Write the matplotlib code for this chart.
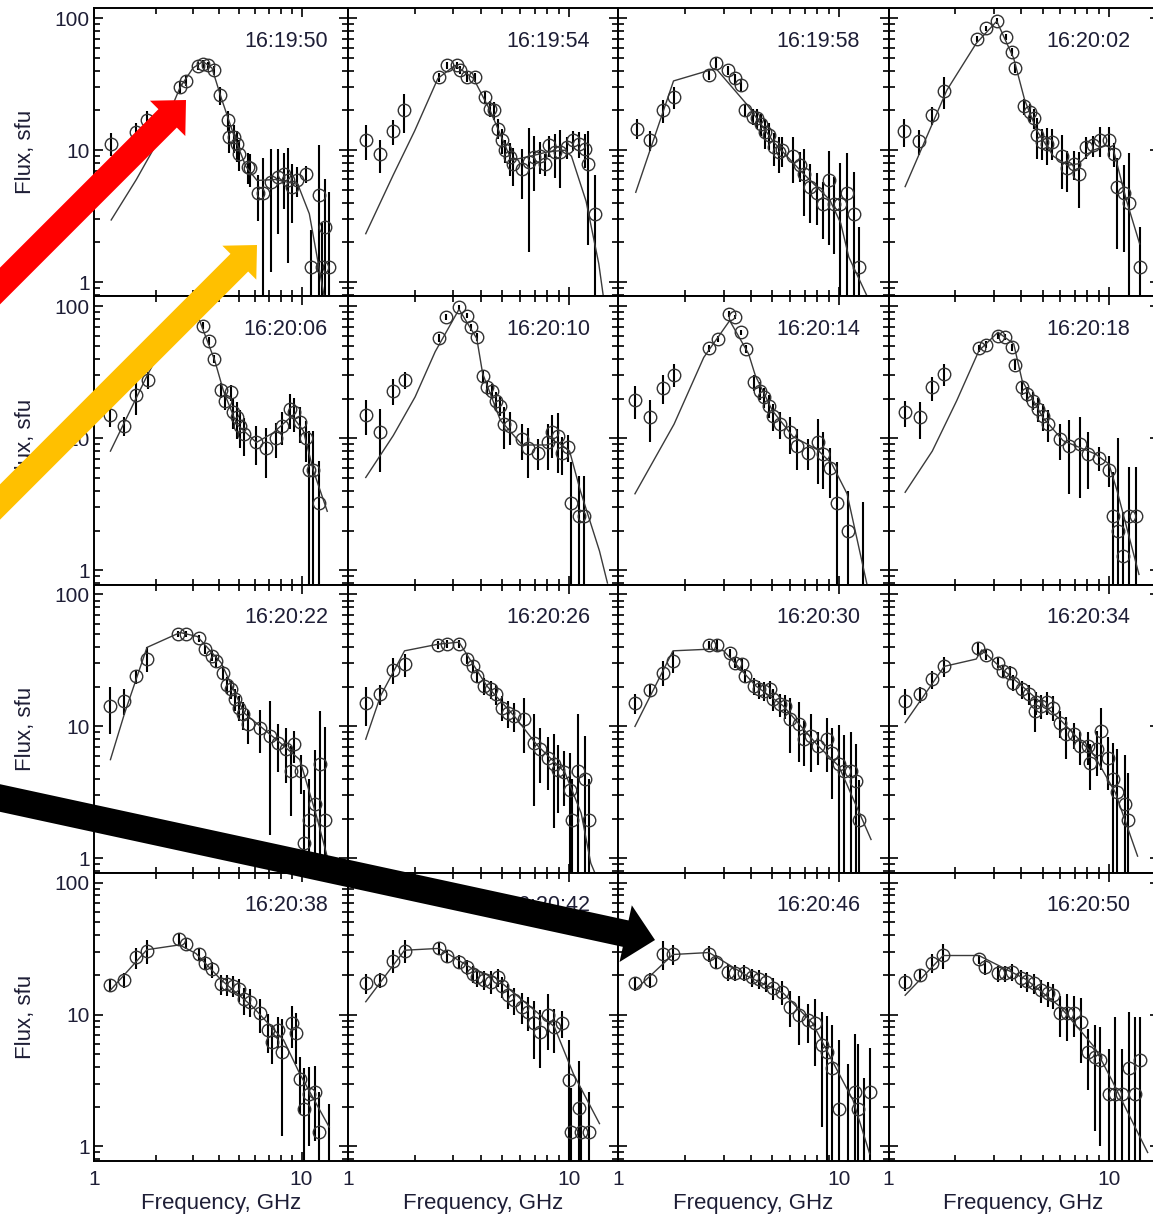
import numpy as np
import matplotlib
matplotlib.use('Agg')
import matplotlib.pyplot as plt
from matplotlib.patches import FancyArrow
from matplotlib.ticker import LogLocator, NullFormatter

plt.rcParams['font.family'] = ['Liberation Sans', 'DejaVu Sans']

times = ['16:19:50', '16:19:54', '16:19:58', '16:20:02',
         '16:20:06', '16:20:10', '16:20:14', '16:20:18',
         '16:20:22', '16:20:26', '16:20:30', '16:20:34',
         '16:20:38', '16:20:42', '16:20:46', '16:20:50']

# observed spectra: frequency (GHz), flux (sfu), 1-sigma error (sfu)
freq = [
    [1.21, 1.6, 1.8, 2.59, 2.78, 3.17, 3.35, 3.53, 3.8, 4.05, 4.41, 4.46, 4.75, 4.87, 5.02, 5.5, 5.65, 6.14, 6.49, 7.12, 7.66, 8.25, 8.65, 9.04, 9.56, 10.5, 11.1, 12.2, 12.5, 13.0, 13.6],
    [1.2, 1.4, 1.6, 1.79, 2.57, 2.8, 3.13, 3.22, 3.45, 3.77, 4.18, 4.41, 4.6, 4.8, 4.98, 5.16, 5.4, 5.58, 6.14, 6.58, 6.98, 7.44, 7.84, 8.11, 8.7, 9.17, 9.84, 10.47, 11.1, 11.9, 12.3, 13.2],
    [1.21, 1.39, 1.6, 1.79, 2.57, 2.78, 3.16, 3.39, 3.6, 3.77, 4.08, 4.26, 4.44, 4.64, 4.8, 5.07, 5.34, 5.53, 6.2, 6.7, 6.93, 7.44, 7.98, 8.49, 9.01, 9.49, 10.1, 10.9, 11.7, 12.3],
    [1.18, 1.38, 1.57, 1.79, 2.53, 2.77, 3.12, 3.42, 3.63, 3.76, 4.1, 4.4, 4.58, 4.72, 4.97, 5.24, 5.52, 6.12, 6.45, 6.92, 7.3, 7.89, 8.51, 9.14, 9.98, 10.5, 10.9, 11.7, 12.4, 13.8],
    [1.2, 1.4, 1.6, 1.82, 3.36, 3.59, 3.8, 4.09, 4.27, 4.56, 4.66, 4.87, 5.08, 5.31, 6.06, 6.76, 7.54, 8.05, 8.78, 9.17, 9.8, 10.45, 10.9, 11.4, 12.1],
    [1.2, 1.4, 1.6, 1.8, 2.58, 2.78, 3.18, 3.45, 3.59, 3.83, 4.1, 4.28, 4.51, 4.7, 4.9, 5.11, 5.44, 6.16, 6.55, 7.27, 8.05, 8.4, 8.93, 9.31, 9.9, 10.3, 11.1, 11.8],
    [1.19, 1.39, 1.59, 1.79, 2.58, 2.82, 3.17, 3.4, 3.61, 3.79, 4.12, 4.39, 4.6, 4.82, 5.03, 5.41, 6.03, 6.49, 7.24, 8.07, 8.52, 9.16, 9.84, 11.0, 12.9],
    [1.19, 1.39, 1.58, 1.79, 2.57, 2.76, 3.14, 3.37, 3.63, 3.76, 4.04, 4.27, 4.51, 4.76, 5.03, 5.31, 6.03, 6.6, 7.36, 8.05, 8.98, 10.0, 10.4, 11.0, 11.6, 12.4, 13.3],
    [1.2, 1.4, 1.6, 1.8, 2.55, 2.76, 3.21, 3.43, 3.71, 3.88, 4.18, 4.37, 4.56, 4.76, 4.98, 5.2, 5.55, 6.31, 7.06, 7.7, 8.4, 8.9, 9.17, 9.9, 10.3, 10.9, 11.6, 12.3, 13.0],
    [1.2, 1.4, 1.6, 1.8, 2.56, 2.8, 3.18, 3.45, 3.67, 3.83, 4.15, 4.42, 4.7, 5.0, 5.32, 5.66, 6.27, 6.95, 7.42, 8.05, 8.56, 8.93, 9.5, 10.1, 10.4, 11.0, 11.9, 12.4],
    [1.19, 1.39, 1.59, 1.77, 2.58, 2.8, 3.2, 3.38, 3.64, 3.77, 4.12, 4.35, 4.6, 4.85, 5.03, 5.41, 5.71, 6.03, 6.6, 6.97, 7.5, 8.07, 8.83, 9.3, 10.0, 10.6, 11.4, 12.0, 12.3],
    [1.19, 1.39, 1.58, 1.79, 2.54, 2.76, 3.14, 3.32, 3.57, 3.69, 4.04, 4.33, 4.64, 4.67, 4.94, 5.22, 5.6, 6.03, 6.36, 6.96, 7.36, 8.05, 8.2, 8.82, 9.25, 9.87, 10.4, 10.9, 11.8, 12.2],
    [1.2, 1.4, 1.6, 1.8, 2.58, 2.76, 3.21, 3.43, 3.71, 4.09, 4.37, 4.66, 4.98, 5.31, 5.67, 6.31, 6.9, 7.22, 7.7, 8.03, 8.97, 9.44, 9.78, 10.3, 10.9, 11.6, 12.1, 13.5],
    [1.2, 1.4, 1.6, 1.8, 2.58, 2.8, 3.18, 3.45, 3.67, 3.83, 4.15, 4.42, 4.76, 5.0, 5.32, 5.66, 6.14, 6.55, 6.95, 7.42, 8.05, 8.56, 9.31, 10.0, 10.3, 11.1, 11.4, 12.4],
    [1.19, 1.39, 1.59, 1.77, 2.58, 2.77, 3.14, 3.38, 3.7, 4.05, 4.35, 4.68, 5.03, 5.51, 6.03, 6.6, 7.24, 7.78, 8.37, 8.83, 9.3, 10.0, 11.0, 11.8, 12.2, 13.0, 13.8],
    [1.19, 1.39, 1.58, 1.77, 2.57, 2.74, 3.14, 3.37, 3.63, 3.98, 4.27, 4.59, 4.94, 5.31, 5.6, 6.03, 6.49, 6.96, 7.47, 8.05, 8.64, 9.11, 10.0, 10.7, 11.5, 12.3, 13.1, 13.9],
]
flux = [
    [11.2, 13.7, 16.9, 29.9, 33.6, 43.4, 44.9, 44.0, 40.4, 26.1, 16.9, 12.6, 12.6, 11.1, 9.4, 7.5, 7.3, 4.7, 4.7, 5.7, 6.3, 6.6, 5.9, 5.3, 5.9, 6.6, 1.3, 4.6, 1.3, 2.6, 1.3],
    [11.9, 9.3, 14.0, 20.1, 35.6, 44, 44, 40.5, 36, 35.6, 25.3, 20.7, 20, 14.6, 11.9, 10, 8.9, 7.9, 7.25, 8.2, 8.9, 9.1, 7.9, 10.9, 9.7, 9.7, 10.6, 11.9, 11.2, 10.3, 7.9, 3.3],
    [14.6, 11.9, 20.1, 25.4, 37, 46, 40.4, 35, 31, 20.1, 17.9, 17.4, 15.9, 13.7, 13, 10.6, 9.7, 10, 9.1, 7.7, 6.65, 5.3, 4.7, 3.94, 5.9, 3.94, 3.94, 4.7, 3.3, 1.3],
    [13.9, 11.7, 18.4, 28.2, 70, 84, 96, 72, 55.7, 41.7, 21.5, 19.5, 17.4, 13, 11.5, 11.2, 11.5, 9.1, 7.3, 7.9, 6.65, 10.6, 10.9, 11.9, 11.9, 9.4, 5.27, 4.7, 4.0, 1.3],
    [15.1, 12.4, 21.4, 27.7, 71.5, 55, 40, 23.2, 19.3, 22.3, 15.7, 14.4, 12.4, 10.8, 9.3, 8.5, 10.1, 12.4, 16.7, 15.7, 13.2, 10.1, 5.8, 5.8, 3.26],
    [15.1, 11.1, 23, 27.7, 57.7, 82.8, 98.6, 85, 69.5, 59, 29.9, 24.3, 23, 19.3, 17.7, 12.8, 12.4, 9.9, 8.5, 7.8, 9.3, 11.1, 10.5, 7.8, 8.6, 3.26, 2.58, 2.58],
    [19.5, 14.4, 24.1, 30.4, 48.4, 56.6, 87.6, 83.7, 63.7, 47.6, 26.5, 23, 20.4, 17.7, 14.8, 12.8, 11.1, 8.8, 7.8, 9.3, 7.6, 6.0, 3.26, 1.99, 0.7],
    [15.7, 14.4, 24.3, 30.8, 48.4, 51.3, 60, 58.3, 48.9, 36.1, 24.3, 21.7, 19.3, 16.7, 14.8, 12.8, 9.9, 8.8, 9.0, 7.6, 7.15, 5.8, 2.58, 1.99, 1.28, 2.58, 2.58],
    [14.3, 15.6, 23.9, 32.7, 50.2, 50.2, 46.5, 38.5, 34.3, 31.4, 25.6, 20.5, 19.1, 16.1, 13.9, 12.4, 10.4, 9.8, 8.5, 7.5, 6.7, 4.6, 7.3, 4.6, 1.31, 1.97, 2.6, 5.2, 1.97],
    [15, 17.5, 26.8, 29.6, 41.3, 42, 42, 32.7, 28.8, 24.2, 20.3, 19.1, 17.5, 13.9, 12.7, 12, 11.3, 7.5, 6.7, 5.8, 5.2, 4.7, 4.5, 3.3, 1.97, 4.6, 4.0, 1.97],
    [15, 18.9, 25.6, 31.4, 41.3, 41.3, 35.9, 30.5, 29.6, 24.2, 20.3, 19.1, 18.7, 19.1, 16.1, 14.7, 14.3, 11.3, 10.4, 8.0, 8.5, 7.1, 8.0, 6.3, 5.2, 4.6, 4.6, 3.86, 1.95],
    [15.6, 17.5, 22.8, 28.8, 39, 34.7, 30.5, 26.4, 25.6, 21.5, 19.1, 17.5, 13.1, 15.2, 14.3, 15.2, 13.9, 10.7, 8.7, 8.7, 7.1, 7.1, 5.3, 6.7, 9.2, 5.8, 4.0, 3.2, 2.6, 1.97],
    [16.7, 18.3, 27.1, 30.5, 37.2, 34.3, 28.8, 24.7, 22, 17, 16.9, 16.5, 15.5, 13, 12.5, 10.2, 7.6, 6.2, 7.6, 5.2, 8.6, 7.2, 3.27, 1.93, 2.5, 2.6, 1.28, 0.6],
    [17.4, 18.3, 25.6, 30.5, 31.7, 27.8, 25.1, 23, 20.3, 19.3, 18.3, 17.7, 19.3, 16.4, 14, 12.9, 11.5, 10.5, 8.6, 7.4, 9.9, 8.1, 8.6, 3.2, 1.28, 1.97, 1.28, 1.28],
    [17.2, 18.3, 28.8, 28.8, 28.8, 25.1, 21.1, 20.8, 20.8, 19.3, 18.7, 17.7, 15.8, 14.9, 11.5, 9.9, 9.1, 8.6, 5.9, 5.2, 3.9, 1.93, 0.7, 2.6, 1.93, 0.7, 2.6],
    [17.7, 19.9, 24.7, 28.3, 26.2, 23, 20.5, 20.5, 21.1, 18.8, 17.9, 17.2, 15.3, 14.5, 14.1, 10.3, 10.3, 10.3, 8.8, 5.2, 4.8, 4.5, 2.5, 2.5, 2.5, 3.9, 2.5, 4.5],
]
err = [
    [2.2, 2.5, 3.0, 3.0, 3.0, 3.0, 3.0, 3.0, 3.0, 4.0, 3.0, 3.0, 3.0, 3.0, 2.5, 2.0, 2.0, 1.8, 4.0, 4.5, 4.0, 3.0, 4.5, 2.5, 1.5, 1.0, 1.2, 6.3, 1.5, 3.5, 3.5],
    [3.5, 2.6, 3.0, 6.5, 3, 3, 3, 3, 3, 3, 3, 3, 3, 2.5, 2.5, 2.0, 2.5, 2.5, 3.0, 6.5, 4.0, 2.5, 1.5, 2.0, 3.5, 4.5, 2.0, 2.0, 2.5, 3.0, 6.0, 3.2],
    [2.5, 2.0, 4.0, 5.0, 3.0, 4.0, 3.0, 3.0, 3.0, 2.0, 2.5, 3.0, 3.0, 3.5, 3.0, 3.0, 3.0, 2.5, 3.5, 2.0, 3.5, 2.5, 2.0, 1.8, 4.0, 2.3, 4.0, 4.8, 3.5, 1.3],
    [3.3, 2.5, 3.0, 7.5, 4, 4, 5, 4, 4, 3, 3, 3, 3, 4.4, 3, 3.5, 3, 4, 2.5, 2, 3, 2, 2, 3, 3, 2, 3.5, 3, 5.5, 1.3],
    [3, 2, 6.3, 4, 4, 4, 3, 3, 3, 3, 4, 4.5, 4, 3.5, 3, 3.5, 3, 3.5, 5, 4.5, 4, 3.5, 5.5, 5.5, 3.5],
    [4.5, 5.5, 5, 4, 4, 4, 4, 4, 4, 4, 3, 3, 3, 3, 3, 4.5, 3.5, 3, 3.5, 2, 3.5, 4, 5, 2.5, 2, 3.3, 2.6, 2.6],
    [5.5, 5, 6, 6, 3, 3, 4, 3, 3, 3, 3.5, 3.5, 3.5, 3.5, 3.5, 3, 3.5, 3, 2, 4.8, 3.5, 2.5, 3.3, 2, 2.6],
    [3.5, 4.5, 5, 6, 3, 3, 3, 3, 3, 3, 3, 3, 3, 3.5, 3.5, 3.5, 3, 5, 5.5, 3.5, 1.5, 1.5, 3, 8, 1.5, 3.5, 3.5],
    [5.5, 3.5, 3, 7, 3, 3, 3, 3, 3, 3, 3, 3, 3, 3, 3, 3, 3, 3.5, 7, 3, 3, 2.5, 2, 1.5, 2, 2, 4, 7.8, 8],
    [5, 3, 6, 6, 3, 3, 3, 3, 3, 3, 3, 3, 3, 3, 3, 3, 5, 5, 3, 2.5, 3.5, 2.5, 2, 3, 2, 7.8, 4.5, 2],
    [2.5, 2, 5.5, 6, 3, 4.5, 3, 3, 3, 3, 3, 3, 3, 3, 3, 3, 3, 5, 5, 3, 4, 2, 3.5, 3.5, 5, 4, 4.5, 3.5, 2],
    [3.5, 2.5, 3.5, 5, 5, 3, 3, 3, 3, 3, 3, 3, 4, 3, 3, 3, 3, 2.5, 3, 2, 2, 2, 2, 2.5, 4.5, 2.5, 3.5, 3.5, 3.5, 2.5],
    [2, 2.5, 5, 6.5, 4, 3, 3, 3, 3, 3, 3, 3, 3, 3, 3, 3, 2.5, 2, 2, 4, 3, 3, 1.5, 2, 1.5, 1.5, 1.3, 1.5],
    [3, 2.5, 5, 6, 3, 3, 3, 3, 3, 3, 3, 3.5, 3, 3, 3, 3, 3, 3, 4, 3.5, 4.5, 3, 2, 3.2, 1.5, 2.5, 1.5, 1.3],
    [2, 2.5, 7, 5, 4, 3, 3, 3, 3, 3, 3, 3, 3, 3, 3.5, 4, 3, 4.5, 4.5, 4.5, 4.5, 4.5, 3.5, 4.5, 4, 2.6, 3],
    [2.5, 2, 4, 6, 2, 3, 3, 3, 3, 3, 3, 3, 3, 3, 3, 3.5, 4, 3.5, 4.5, 2.5, 3.5, 3.5, 3, 7, 3, 6.5, 7, 5],
]

# fitted model spectra
model_f = [
    [1.21, 1.6, 2.0, 2.6, 3.0, 3.35, 3.7, 4.1, 4.8, 5.4, 6.1, 7.5, 9.6, 10.9, 12.8, 13.5],
    [1.2, 1.6, 2.0, 2.55, 3.05, 3.7, 4.4, 5.5, 6.7, 8.0, 9.6, 10.3, 12.0, 13.7, 14.5],
    [1.2, 1.78, 2.77, 3.85, 5.07, 6.7, 9.1, 10.2, 11.1, 13.5],
    [1.19, 1.84, 2.5, 3.1, 3.7, 4.15, 4.72, 5.6, 6.5, 7.3, 8.5, 9.8, 10.5, 12.0, 13.8],
    [1.2, 1.82, 2.3, 2.8, 3.1, 3.82, 4.2, 4.87, 6.06, 7.3, 9.0, 10.2, 11.4, 13.3],
    [1.2, 1.6, 2.01, 2.48, 3.18, 3.83, 4.07, 4.9, 6.16, 7.9, 8.9, 10.1, 11.3, 13.8, 15.0],
    [1.19, 1.79, 2.44, 3.2, 3.9, 4.18, 5.0, 6.2, 8.0, 9.3, 10.9, 13.4],
    [1.19, 1.58, 2.04, 2.57, 3.14, 3.7, 4.04, 5.03, 6.2, 8.7, 10.0, 10.9, 13.7],
    [1.2, 1.4, 1.8, 2.6, 3.15, 4.1, 5.3, 7.6, 9.8, 11.7, 13.3, 14.0],
    [1.2, 1.4, 1.8, 2.56, 3.18, 4.25, 5.66, 7.2, 9.6, 11.4, 12.6, 13.5],
    [1.19, 1.77, 2.6, 3.0, 4.2, 5.6, 8.07, 10.0, 12.0, 14.0],
    [1.19, 1.79, 2.5, 2.65, 3.3, 4.2, 6.0, 8.6, 10.7, 13.5],
    [1.2, 1.8, 2.58, 3.1, 4.1, 5.8, 8.2, 9.8, 13.6],
    [1.2, 1.8, 2.58, 3.7, 4.6, 8.6, 10.5, 13.8],
    [1.19, 1.77, 2.58, 3.9, 5.6, 7.6, 9.0, 11.6, 13.8],
    [1.19, 1.77, 2.57, 4.2, 6.0, 8.64, 10.3, 13.6, 15.0],
]
model_s = [
    [2.96, 6.0, 11.2, 30, 42, 47, 42, 25, 12, 7.5, 5.9, 6.0, 5.5, 3.3, 0.81, 0.6],
    [2.33, 6.5, 14, 35, 44, 35, 20, 8.4, 9.0, 9.7, 10, 9, 4.1, 1.38, 0.7],
    [4.8, 33.5, 41.7, 22, 11.5, 7.0, 4.2, 2.8, 1.55, 0.77],
    [5.3, 28.5, 64.5, 95, 49.7, 24, 14, 9, 7.7, 7.9, 10, 10.9, 10, 4.2, 1.95],
    [8, 30.8, 60, 88, 92, 38.8, 23, 12.8, 9.3, 11, 14.8, 11.4, 5.7, 2.8],
    [5.05, 10.5, 20.6, 45.4, 95, 57, 31, 13.7, 8.9, 8.9, 9.4, 8, 4, 1.4, 0.8],
    [3.8, 12.8, 41, 78, 43.6, 30, 16.2, 10.3, 8.2, 6.4, 3.8, 0.79],
    [3.9, 8.0, 19.3, 46, 63.7, 52, 27.4, 14.3, 9.6, 7.6, 6.4, 4.0, 0.93],
    [5.6, 12.4, 39.7, 51.5, 48, 30.3, 12.6, 7.9, 5.6, 2.2, 1.03, 0.8],
    [8, 17, 37.4, 42, 43.5, 20.3, 12, 7.2, 4.5, 2.2, 0.92, 0.7],
    [10, 37.4, 38.5, 37.5, 20.3, 14.3, 7.1, 5.0, 2.5, 1.39],
    [10.7, 28.5, 32.4, 38, 27, 19.1, 11.3, 6.0, 3.15, 1.04],
    [15.3, 31, 33.7, 29, 18.3, 11.5, 6.4, 3.56, 1.4],
    [12.5, 30.7, 31.7, 22, 19.3, 8.1, 3.56, 1.49],
    [15.3, 28.5, 29.5, 19.3, 14.5, 8.6, 5.0, 2.24, 0.88],
    [14, 28, 28, 18.5, 11.5, 5.6, 3.2, 1.25, 0.9],
]

# pointer arrows drawn over the panels (figure pixels, y downward)
arrow_tail = [(-30, 316), (-30, 532), (-30, 791.5)]
arrow_tip = [(186, 100), (257, 245), (655, 940)]
arrow_color = ['#ff0000', '#ffc000', '#000000']

W, H = 1153, 1216
fig = plt.figure(figsize=(W / 100, H / 100), dpi=100)

col_left = [94, 348.3, 618.3, 888.5]
col_width = [254.3, 270, 270.2, 270]
row_top = [8.3, 296.4, 584.5, 872.6]
row_h = 288.1
stamp_x = [0.92, 0.895, 0.895, 0.895]
txt = '#1e1e36'

for k in range(16):
    r, c = divmod(k, 4)
    ax = fig.add_axes([col_left[c] / W, 1 - (row_top[r] + row_h) / H,
                       col_width[c] / W, row_h / H])
    ax.set_xscale('log')
    ax.set_yscale('log')

    f = np.array(freq[k])
    s = np.array(flux[k])
    e = np.array(err[k])
    lo = np.minimum(e, s - 0.01)
    ax.errorbar(f, s, yerr=[lo, e], fmt='o', mfc='none', mec='#333333',
                mew=1.0, ms=9, ecolor='black', elinewidth=1.5, capsize=0)
    ax.plot(model_f[k], model_s[k], color='#3a3a3a', lw=1.0)

    ax.set_xlim(1, 16.8)
    ax.set_ylim(0.78, 119)
    ax.set_xticks([1, 10])
    ax.set_xticklabels(['1', '10'])
    ax.set_yticks([1, 10, 100])
    ax.set_yticklabels(['1', '10', '100'])
    ax.xaxis.set_minor_locator(LogLocator(base=10, subs=np.arange(2, 10)))
    ax.yaxis.set_minor_locator(LogLocator(base=10, subs=np.arange(2, 10)))
    ax.xaxis.set_minor_formatter(NullFormatter())
    ax.yaxis.set_minor_formatter(NullFormatter())
    ax.tick_params(which='both', direction='in', top=True, right=True,
                   width=1.2, labelsize=15, labelcolor=txt,
                   labelleft=(c == 0), labelbottom=(r == 3))
    ax.tick_params(which='major', length=6.5)
    ax.tick_params(which='minor', length=4)
    ax.tick_params(axis='x', pad=7)
    ax.tick_params(axis='y', pad=3)
    for sp in ax.spines.values():
        sp.set_linewidth(1.4)

    ax.text(stamp_x[c], 0.886, times[k], transform=ax.transAxes,
            ha='right', va='center', fontsize=15.5, color=txt)

    if c == 0:
        fig.text(25 / W, 1 - (row_top[r] + row_h / 2) / H, 'Flux, sfu',
                 rotation=90, ha='center', va='center', fontsize=16, color=txt)
    if r == 3:
        fig.text((col_left[c] + col_width[c] / 2) / W, 1 - 1203 / H,
                 'Frequency, GHz', ha='center', va='center',
                 fontsize=16, color=txt)

# overlay in pixel units for the pointer arrows
ov = fig.add_axes([0, 0, 1, 1])
ov.set_zorder(10)
ov.set_xlim(0, W)
ov.set_ylim(H, 0)
ov.axis('off')
ov.patch.set_alpha(0)
arrow_size = [(26, 50, 26), (25, 48, 25), (27, 58, 30)]
for (x0, y0), (x1, y1), col, (w, hw, hl) in zip(arrow_tail, arrow_tip,
                                                 arrow_color, arrow_size):
    ov.add_patch(FancyArrow(x0, y0, x1 - x0, y1 - y0, width=w,
                            head_width=hw, head_length=hl,
                            length_includes_head=True, color=col, lw=0))

fig.savefig('out.png', dpi=100)
